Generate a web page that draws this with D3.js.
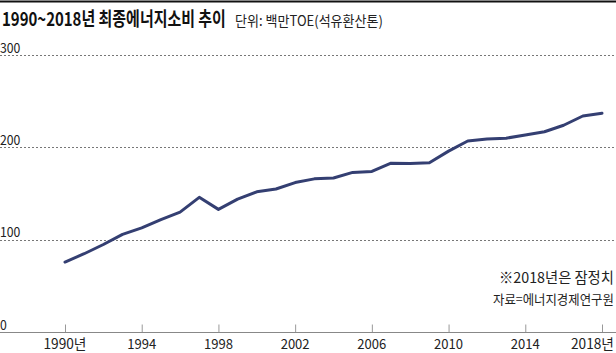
<!DOCTYPE html>
<html>
<head>
<meta charset="utf-8">
<script src="https://cdn.jsdelivr.net/npm/d3@7"></script>
<style>
  body { margin: 0; background: #fff; }
  svg { display: block; }
  text { font-family: "Noto Sans CJK KR", "Noto Sans", sans-serif; }
</style>
</head>
<body>
<div id="chart"></div>
<script>
// 1990~2018 final energy consumption, million TOE
var years = [1990, 1991, 1992, 1993, 1994, 1995, 1996, 1997, 1998, 1999,
             2000, 2001, 2002, 2003, 2004, 2005, 2006, 2007, 2008, 2009,
             2010, 2011, 2012, 2013, 2014, 2015, 2016, 2017, 2018];
var consumption = [76, 85, 95, 106, 113, 122, 130, 146, 133, 144,
                   152, 155, 162, 166, 167, 173, 174, 183, 182.5, 183.5,
                   196, 207, 209, 210, 213.5, 217, 224, 234, 237];
var yTicks = [0, 100, 200, 300];
var xTicks = [1990, 1994, 1998, 2002, 2006, 2010, 2014, 2018];

var width = 616, height = 353;

var svg = d3.select("#chart").append("svg")
    .attr("width", width)
    .attr("height", height);

var x = d3.scaleLinear()
    .domain([1990, 2018])
    .range([65, 602]);

var y = d3.scaleLinear()
    .domain([0, 300])
    .range([332.3, 55]);

// condensed text: draw at (px, py), squeeze horizontally to width w
function condensed(parent, px, py, w, anchor, str) {
    var t = parent.append("text")
        .attr("x", 0).attr("y", 0)
        .text(str);
    var natural = t.node().getComputedTextLength();
    var s = w / natural;
    var left = anchor === "end" ? px - w : (anchor === "middle" ? px - w / 2 : px);
    t.attr("transform", "translate(" + left + "," + py + ") scale(" + s + ",1)");
    return t;
}

// top rule
svg.append("line")
    .attr("x1", 0).attr("x2", width)
    .attr("y1", 1.5).attr("y2", 1.5)
    .attr("stroke", "#111").attr("stroke-width", 2);

// title
var gTitle = svg.append("g")
    .attr("font-size", 19).attr("font-weight", "bold").attr("fill", "#111");
condensed(gTitle, 2, 26, 224, "start", "1990~2018년 최종에너지소비 추이");

var gUnit = svg.append("g")
    .attr("font-size", 14).attr("fill", "#222");
condensed(gUnit, 235, 26, 148, "start", "단위: 백만TOE(석유환산톤)");

// gridlines
svg.append("g")
    .selectAll("line")
    .data(yTicks.filter(function(d) { return d > 0; }))
    .enter().append("line")
    .attr("x1", 0).attr("x2", width)
    .attr("y1", function(d) { return Math.round(y(d)) + 0.5; })
    .attr("y2", function(d) { return Math.round(y(d)) + 0.5; })
    .attr("stroke", "#777")
    .attr("stroke-width", 1)
    .attr("stroke-dasharray", "2,2");

// y labels
var gy = svg.append("g").attr("font-size", 14).attr("fill", "#222");
yTicks.forEach(function(d) {
    condensed(gy, 0, y(d) - 2.5, String(d).length * 6.8, "start", String(d));
});

// x axis
var xAxis = d3.axisBottom(x)
    .tickValues(xTicks)
    .tickSizeInner(-8)
    .tickSizeOuter(0)
    .tickFormat("");

var gx = svg.append("g")
    .attr("class", "x-axis axis")
    .attr("transform", "translate(0," + 332.5 + ")")
    .call(xAxis);

gx.select(".domain").remove();
gx.selectAll(".tick line").attr("stroke", "#999");

svg.append("line")
    .attr("x1", 0).attr("x2", width)
    .attr("y1", 332.5).attr("y2", 332.5)
    .attr("stroke", "#888").attr("stroke-width", 1);

var gxl = svg.append("g").attr("font-size", 14).attr("fill", "#222");
xTicks.forEach(function(d, i) {
    var last = i === xTicks.length - 1;
    if (i === 0) condensed(gxl, x(d), 349, 43, "middle", d + "년");
    else if (last) condensed(gxl, 614, 349, 43, "end", d + "년");
    else condensed(gxl, x(d), 349, 29, "middle", String(d));
});

// line
var line = d3.line()
    .x(function(d, i) { return x(years[i]); })
    .y(function(d) { return y(d); });

svg.append("path")
    .datum(consumption)
    .attr("d", line)
    .attr("fill", "none")
    .attr("stroke", "#343f72")
    .attr("stroke-width", 3)
    .attr("stroke-linejoin", "round")
    .attr("stroke-linecap", "round");

// notes
var gNote = svg.append("g").attr("fill", "#222");
condensed(gNote.append("g").attr("font-size", 15), 614, 283, 115, "end", "※2018년은 잠정치");
condensed(gNote.append("g").attr("font-size", 13), 614, 304, 121, "end", "자료=에너지경제연구원");
</script>
</body>
</html>
